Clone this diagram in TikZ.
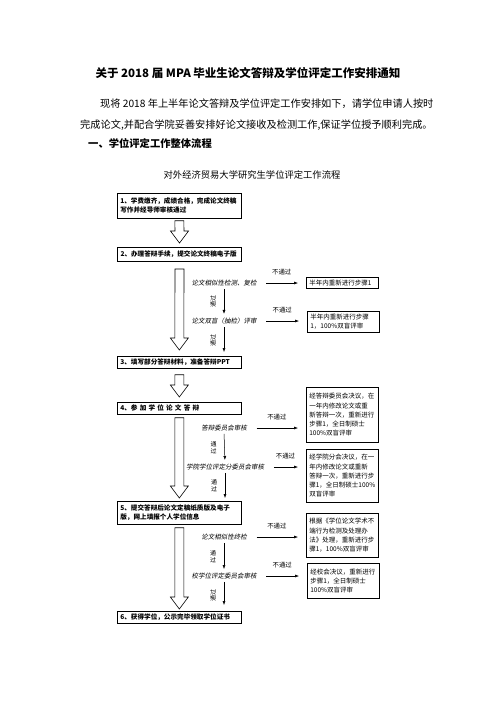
\documentclass[tikz,border=0pt]{standalone}
\usepackage{fontspec}
\setmainfont{Noto Sans CJK SC}
\newfontfamily\cjkslant{Noto Sans CJK SC}[FakeSlant=0.2]
\usetikzlibrary{arrows.meta,calc}

\tikzset{
  stepbox/.style={draw, line width=0.7pt, anchor=north west, text width=118pt, inner xsep=3pt, inner ysep=1pt, minimum width=124pt, align=left, font=\bfseries\fontsize{6.6}{9}\selectfont},
  notebox/.style={draw, line width=0.7pt, anchor=north west, text width=66pt, inner xsep=3pt, inner ysep=1pt, minimum width=72pt, align=left, font=\fontsize{6.5}{9.3}\selectfont},
  checktext/.style={inner sep=0.75pt, font=\cjkslant\fontsize{6.5}{8}\selectfont},
  failtext/.style={inner sep=0.75pt, font=\fontsize{6.4}{8}\selectfont},
  passtext/.style={inner sep=0.75pt, align=center, font=\fontsize{6}{7}\selectfont},
  flow/.style={-{Latex[length=4pt,width=3pt]}, line width=0.5pt},
  hollow/.style={draw, line width=0.6pt, fill=white},
}

% big hollow arrow from #1 down to its tip #2
\newcommand{\hollowarrow}[2]{%
  \draw[hollow] ($(#1)+(-4.5,0)$) -- ($(#1)+(4.5,0)$) -- ($(#2)+(4.5,-12)$) -- ($(#2)+(9,-12)$) -- (#2)
    -- ($(#2)+(-9,-12)$) -- ($(#2)+(-4.5,-12)$) -- cycle;}

\begin{document}
\begin{tikzpicture}[x=1pt,y=-1pt]
\useasboundingbox[fill=white] (0,0) rectangle (496,702);

% Text Node
\node[font=\bfseries\fontsize{11.5}{14}\selectfont] (title) at (248,73) {关于 2018 届 MPA 毕业生论文答辩及学位评定工作安排通知};
% Text Node
\node[anchor=west, inner sep=0pt, font=\fontsize{10.2}{12}\selectfont] (par1) at (100,104) {现将 2018 年上半年论文答辩及学位评定工作安排如下，请学位申请人按时};
% Text Node
\node[anchor=west, inner sep=0pt, font=\fontsize{10.2}{12}\selectfont] (par2) at (80,125) {完成论文,并配合学院妥善安排好论文接收及检测工作,保证学位授予顺利完成。};
% Text Node
\node[anchor=west, inner sep=0pt, font=\bfseries\fontsize{10.3}{12}\selectfont] (head) at (88,143) {一、学位评定工作整体流程};
% Text Node
\node[font=\fontsize{9.3}{11}\selectfont] (chart) at (252,175) {对外经济贸易大学研究生学位评定工作流程};

%Shape: Rectangle
\node[stepbox, minimum height=25pt] (b1) at (117,193) {1、学费缴齐，成绩合格，完成论文终稿\\写作并经导师审核通过};
%Shape: Rectangle
\node[stepbox, minimum height=14pt, line width=1pt] (b2) at (117,247) {2、办理答辩手续，提交论文终稿电子版};
%Shape: Rectangle
\node[stepbox, minimum height=12pt] (b3) at (117,356) {3、填写部分答辩材料，准备答辩PPT};
%Shape: Rectangle
\node[stepbox, minimum height=12pt] (b4) at (117,402) {4、参\ 加\ 学\ 位\ 论\ 文\ 答\ 辩};
%Shape: Rectangle
\node[stepbox, minimum height=23pt] (b5) at (117,501) {5、提交答辩后论文定稿纸质版及电子\\版，网上填报个人学位信息};
%Shape: Rectangle
\node[stepbox, minimum height=12pt] (b6) at (117,611) {6、获得学位，公示完毕领取学位证书};

%Down Arrows
\coordinate (a1t) at ([yshift=-2pt]b1.south);
\coordinate (a1b) at ([yshift=4pt]b2.north);
\hollowarrow{a1t}{a1b}
\coordinate (a2t) at ([yshift=-7pt]b2.south);
\coordinate (a2b) at ([yshift=6pt]b3.north);
\hollowarrow{a2t}{a2b}
\coordinate (a3t) at ([yshift=-6pt]b3.south);
\coordinate (a3b) at ([yshift=5pt]b4.north);
\hollowarrow{a3t}{a3b}
\coordinate (a4t) at ([yshift=-3pt]b4.south);
\coordinate (a4b) at ([yshift=3pt]b5.north);
\hollowarrow{a4t}{a4b}
\coordinate (a5t) at ([yshift=-3pt]b5.south);
\coordinate (a5b) at ([yshift=2pt]b6.north);
\hollowarrow{a5t}{a5b}

% Text Node
\node[checktext] (c1) at (224,283) {论文相似性检测、复检};
\node[checktext] (c2) at (224,321) {论文双盲（抽检）评审};
\node[checktext] (c3) at (224,428) {答辩委员会审核};
\node[checktext] (c4) at (225,467) {学院学位评定分委员会审核};
\node[checktext] (c5) at (224,537) {论文相似性终检};
\node[checktext] (c6) at (224,576) {校学位评定委员会审核};

%Shape: Rectangle
\node[notebox, minimum height=11pt] (r1) at (306,277) {半年内重新进行步骤1};
\node[notebox, minimum height=21pt] (r2) at (307,311) {半年内重新进行步骤\\1，100\%双盲评审};
\node[notebox, minimum height=55pt] (r3) at (306,387) {经答辩委员会决议，在\\一年内修改论文或重\\新答辩一次，重新进行\\步骤1，全日制硕士\\100\%双盲评审};
\node[notebox, minimum height=53pt] (r4) at (306,449) {经学院分会决议，在一\\年内修改论文或重新\\答辩一次，重新进行步\\骤1，全日制硕士100\%\\双盲评审};
\node[notebox, minimum height=44pt] (r5) at (306,513) {根据《学位论文学术不\\端行为检测及处理办\\法》处理，重新进行步\\骤1，100\%双盲评审};
\node[notebox, minimum height=35pt] (r6) at (307,563) {经校会决议，重新进行\\步骤1，全日制硕士\\100\%双盲评审};

%Straight Lines
\foreach \c/\r in {c1/r1, c2/r2, c3/r3, c4/r4, c5/r5, c6/r6}{
  \draw[flow, shorten <=9pt, shorten >=8pt] (\c.east) -- (\c.east -| \r.west);
  \node[failtext] (f\c) at ($(\c.east)!0.5!(\c.east -| \r.west)+(0,-11)$) {不通过};
}

%Straight Lines
\draw[flow, shorten <=2pt, shorten >=3pt] (c1.south) -- (c2.north);
\draw[flow, shorten <=2pt, shorten >=4pt] (c2.south) -- (c2.south |- b3.north);
\draw[flow, shorten <=2pt, shorten >=3pt] (c3.south) -- (c4.north);
\draw[flow, shorten <=2pt, shorten >=3pt] (c4.south) -- (c4.south |- b5.north);
\draw[flow, shorten <=2pt, shorten >=3pt] (c5.south) -- (c6.north);
\draw[flow, shorten <=2pt, shorten >=6pt] (c6.south) -- (c6.south |- b6.north);

% Text Node
\node[passtext, rotate=90] (p1) at ($(c1.south)!0.5!(c2.north)+(-11,0)$) {通过};
\node[passtext, rotate=90] (p2) at ($(c2.south)!0.5!(c2.south |- b3.north)+(-11,0)$) {通过};
\node[passtext] (p3) at ($(c3.south)!0.5!(c4.north)+(-11,0)$) {通\\过};
\node[passtext] (p4) at ($(c4.south)!0.5!(c4.south |- b5.north)+(-11,0)$) {通\\过};
\node[passtext] (p5) at ($(c5.south)!0.5!(c6.north)+(-11,0)$) {通\\过};
\node[passtext, rotate=90] (p6) at ($(c6.south)!0.5!(c6.south |- b6.north)+(-11,0)$) {通过};

\end{tikzpicture}
\end{document}
